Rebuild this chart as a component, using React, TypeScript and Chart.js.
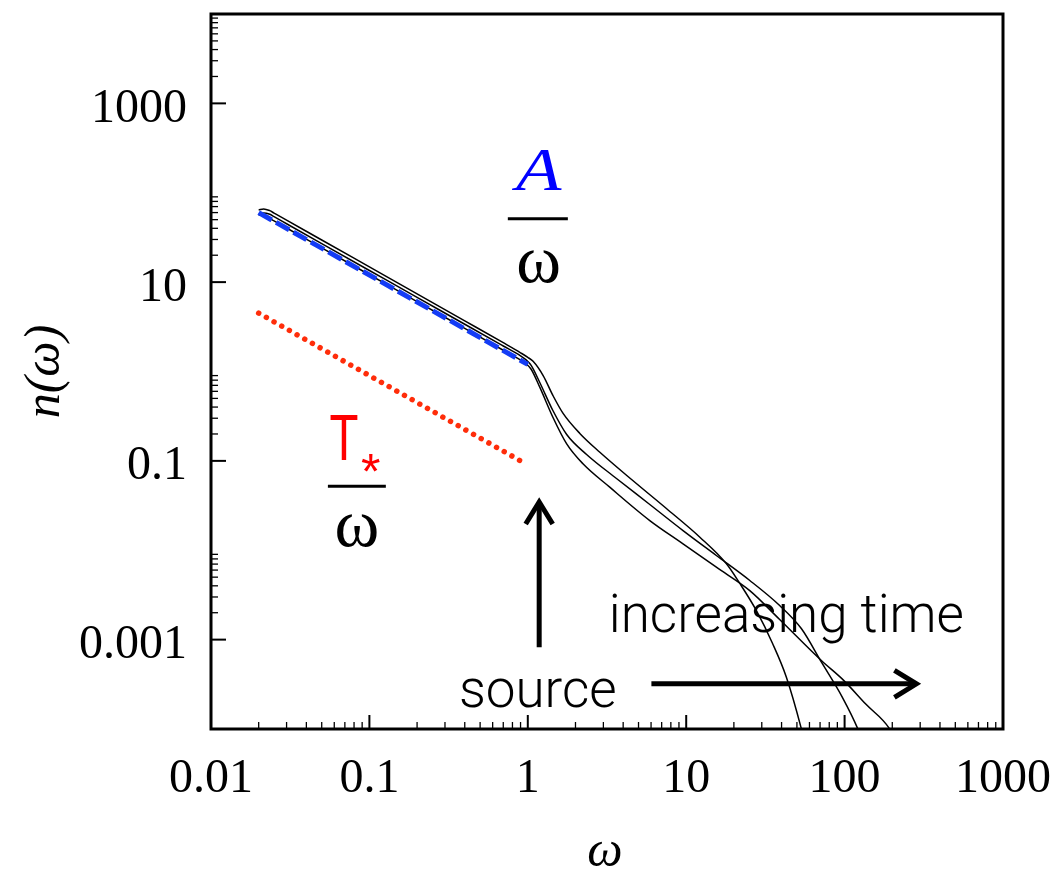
import { useEffect, useRef } from 'react';
import { Chart, registerables } from 'chart.js';

Chart.register(...registerables);

// Axis ticks
const xTickValues = [0.01, 0.1, 1, 10, 100, 1000];
const xTickLabels = ['0.01', '0.1', '1', '10', '100', '1000'];
const yTickValues = [0.001, 0.1, 10, 1000];
const yTickLabels = ['0.001', '0.1', '10', '1000'];

// n(ω) at three successive times (earliest first)
const omega1 = [0.02, 0.0215, 0.0235, 0.025, 0.03, 0.05, 0.1, 0.2, 0.4, 0.7, 0.9, 1.0, 1.08, 1.25, 1.44, 1.67, 2.13, 2.85, 4.6, 7.5, 12.2, 17.9, 21.8, 27.7, 35.1, 42.9, 53.3, 56];
const n1 = [64, 66, 63, 59.2, 49.3, 29.6, 14.8, 7.4, 3.69, 2.1, 1.62, 1.44, 1.3, 0.9, 0.54, 0.34, 0.203, 0.125, 0.0603, 0.0293, 0.014, 0.0071, 0.00425, 0.00212, 0.000904, 0.00038, 0.000101, 0.00007];

const omega2 = [0.02, 0.0215, 0.0235, 0.025, 0.03, 0.05, 0.1, 0.2, 0.4, 0.7, 0.9, 0.98, 1.05, 1.19, 1.44, 1.76, 2.35, 3.63, 5.89, 9.55, 15.5, 25.2, 38.9, 53.3, 71.6, 97, 121, 127];
const n2 = [57, 59.5, 57.4, 54, 45, 27, 13.5, 6.75, 3.38, 1.93, 1.5, 1.34, 1.17, 0.754, 0.366, 0.1975, 0.118, 0.0635, 0.0325, 0.0166, 0.00874, 0.00459, 0.00241, 0.00133, 0.000555, 0.000225, 0.000101, 0.00008];

const omega3 = [0.02, 0.0215, 0.0235, 0.025, 0.03, 0.05, 0.1, 0.2, 0.4, 0.7, 0.9, 0.98, 1.05, 1.19, 1.44, 1.76, 2.23, 3.29, 5.89, 9.55, 15.5, 25.2, 38.9, 71.6, 98.6, 136, 192, 205];
const n3 = [56, 56.5, 51.5, 48.4, 40.3, 24.2, 12.1, 6.05, 3.03, 1.73, 1.34, 1.21, 1.06, 0.668, 0.308, 0.155, 0.0928, 0.0508, 0.0215, 0.0118, 0.00646, 0.00354, 0.00168, 0.00058, 0.00035, 0.00019, 0.000101, 0.00008];

// Power laws A/ω and T*/ω
const omegaA = [0.02, 1.0];
const nA = [60, 1.2];
const omegaT = [0.02, 0.92];
const nT = [4.5, 0.0978];

const pts = (xs: number[], ys: number[]) => xs.map((x, i) => ({ x, y: ys[i] }));

const SERIF = '"Liberation Serif", "Times New Roman", serif';
const SANS_LIGHT = '300 53px Roboto, "Liberation Sans", sans-serif';

const frameAndNotes = {
  id: 'frameAndNotes',
  afterDraw(chart: any) {
    const { ctx, chartArea: a, scales } = chart;
    const xs = scales.x;
    const ys = scales.y;
    const px = (v: number) => xs.getPixelForValue(v);
    const py = (v: number) => ys.getPixelForValue(v);
    ctx.save();

    // frame
    ctx.strokeStyle = '#000';
    ctx.lineWidth = 3;
    ctx.strokeRect(a.left, a.top, a.right - a.left, a.bottom - a.top);

    // inward ticks on the bottom axis
    const tick = (x0: number, y0: number, x1: number, y1: number, w: number) => {
      ctx.lineWidth = w;
      ctx.beginPath();
      ctx.moveTo(x0, y0);
      ctx.lineTo(x1, y1);
      ctx.stroke();
    };
    xTickValues.forEach((d, i) => {
      if (i > 0 && i < xTickValues.length - 1) tick(px(d), a.bottom, px(d), a.bottom - 14, 2);
      if (i < xTickValues.length - 1) {
        for (let k = 2; k <= 9; k++) tick(px(k * d), a.bottom, px(k * d), a.bottom - 7, 1.3);
      }
    });
    // inward ticks on the left axis
    yTickValues.forEach((d) => {
      tick(a.left, py(d), a.left + 15, py(d), 2);
      for (let k = 2; k <= 9; k++) tick(a.left, py(k * d), a.left + 7, py(k * d), 1.3);
    });

    ctx.textAlign = 'center';
    ctx.textBaseline = 'alphabetic';

    // A / ω
    ctx.save();
    ctx.translate(px(1.17), py(106));
    ctx.scale(1.2, 1);
    ctx.fillStyle = 'rgb(0,0,255)';
    ctx.font = `italic 62px ${SERIF}`;
    ctx.fillText('A', 0, 0);
    ctx.restore();
    ctx.lineWidth = 3;
    ctx.beginPath();
    ctx.moveTo(px(0.748), py(51.2));
    ctx.lineTo(px(1.79), py(51.2));
    ctx.stroke();
    ctx.fillStyle = '#000';
    ctx.font = `68px ${SERIF}`;
    ctx.fillText('ω', px(1.17), py(10));

    // T* / ω
    ctx.save();
    ctx.translate(px(0.069), py(0.101));
    ctx.scale(0.74, 1);
    ctx.fillStyle = 'rgb(255,0,0)';
    ctx.font = '64px "Liberation Sans", sans-serif';
    ctx.fillText('T', 0, 0);
    ctx.restore();
    ctx.fillStyle = 'rgb(255,0,0)';
    ctx.font = '50px "Liberation Sans", sans-serif';
    ctx.fillText('*', px(0.102), py(0.0479));
    ctx.lineWidth = 3;
    ctx.beginPath();
    ctx.moveTo(px(0.0547), py(0.0521));
    ctx.lineTo(px(0.127), py(0.0521));
    ctx.stroke();
    ctx.fillStyle = '#000';
    ctx.font = `68px ${SERIF}`;
    ctx.fillText('ω', px(0.0834), py(0.0113));

    // arrows
    const arrow = (x0: number, y0: number, x1: number, y1: number) => {
      const ang = Math.atan2(y1 - y0, x1 - x0);
      const c = Math.cos(ang);
      const s = Math.sin(ang);
      ctx.lineWidth = 5;
      ctx.lineJoin = 'miter';
      ctx.beginPath();
      ctx.moveTo(x0, y0);
      ctx.lineTo(x1 - c * 2, y1 - s * 2);
      ctx.stroke();
      const bx = x1 - c * 22;
      const by = y1 - s * 22;
      ctx.beginPath();
      ctx.moveTo(bx - s * 13.5, by + c * 13.5);
      ctx.lineTo(x1, y1);
      ctx.lineTo(bx + s * 13.5, by - c * 13.5);
      ctx.stroke();
    };
    ctx.strokeStyle = '#000';
    arrow(px(1.18), py(8.2e-4), px(1.18), py(0.0347));
    arrow(px(6.03), py(3.2e-4), px(284), py(3.2e-4));

    ctx.fillStyle = '#000';
    ctx.font = SANS_LIGHT;
    ctx.fillText('source', px(1.156), py(1.78e-4));
    ctx.fillText('increasing time', px(42.9), py(1.21e-3));

    // axis titles
    ctx.font = `italic 50px ${SERIF}`;
    ctx.fillText('ω', (a.left + a.right) / 2 - 2, a.bottom + 137);
    ctx.save();
    ctx.translate(a.left - 165, (a.top + a.bottom) / 2);
    ctx.rotate(-Math.PI / 2);
    ctx.textBaseline = 'middle';
    ctx.fillText('n(ω)', 0, 0);
    ctx.restore();

    ctx.restore();
  },
};

export default function App() {
  const canvasRef = useRef<HTMLCanvasElement | null>(null);

  useEffect(() => {
    const canvas = canvasRef.current;
    if (!canvas) return;
    const black = {
      borderColor: '#000',
      borderWidth: 1.5,
      pointRadius: 0,
      fill: false,
      cubicInterpolationMode: 'monotone' as const,
    };
    const chart = new Chart(canvas, {
      type: 'line',
      data: {
        datasets: [
          {
            data: pts(omegaA, nA),
            borderColor: 'rgb(20,60,245)',
            borderWidth: 5,
            borderDash: [15, 5],
            pointRadius: 0,
            fill: false,
            order: 0,
          },
          {
            data: pts(omegaT, nT),
            borderColor: 'rgb(255,45,10)',
            borderWidth: 5.5,
            borderDash: [0.01, 8.8],
            borderCapStyle: 'round',
            pointRadius: 0,
            fill: false,
            order: 1,
          },
          { ...black, data: pts(omega1, n1), order: 2 },
          { ...black, data: pts(omega2, n2), order: 3 },
          { ...black, data: pts(omega3, n3), order: 4 },
        ],
      },
      options: {
        responsive: false,
        animation: false,
        layout: { padding: { top: 14, right: 52, left: 0, bottom: 0 } },
        plugins: { legend: { display: false }, tooltip: { enabled: false }, title: { display: false } },
        scales: {
          x: {
            type: 'logarithmic',
            min: 0.01,
            max: 1000,
            grid: { display: false, drawTicks: false },
            border: { display: false },
            afterFit: (s: any) => {
              s.height = 143;
              s.paddingLeft = 0;
              s.paddingRight = 0;
            },
            afterBuildTicks: (s: any) => {
              s.ticks = xTickValues.map((value) => ({ value }));
            },
            ticks: {
              autoSkip: false,
              maxRotation: 0,
              padding: 22,
              color: '#000',
              font: { family: SERIF, size: 48 },
              callback: (v: any) => {
                const i = xTickValues.indexOf(Number(v));
                return i >= 0 ? xTickLabels[i] : '';
              },
            },
          },
          y: {
            type: 'logarithmic',
            min: 0.0001,
            max: 10000,
            grid: { display: false, drawTicks: false },
            border: { display: false },
            afterFit: (s: any) => {
              s.width = 211;
              s.paddingTop = 0;
              s.paddingBottom = 0;
            },
            afterBuildTicks: (s: any) => {
              s.ticks = yTickValues.map((value) => ({ value }));
            },
            ticks: {
              autoSkip: false,
              padding: 24,
              labelOffset: 6,
              color: '#000',
              font: { family: SERIF, size: 48 },
              callback: (v: any) => {
                const i = yTickValues.indexOf(Number(v));
                return i >= 0 ? yTickLabels[i] : '';
              },
            },
          },
        },
      },
      plugins: [frameAndNotes],
    });
    return () => chart.destroy();
  }, []);

  return (
    <div style={{ position: 'absolute', left: 0, top: 0, width: 1055, height: 872, background: '#fff' }}>
      <canvas ref={canvasRef} width={1055} height={872} />
    </div>
  );
}
